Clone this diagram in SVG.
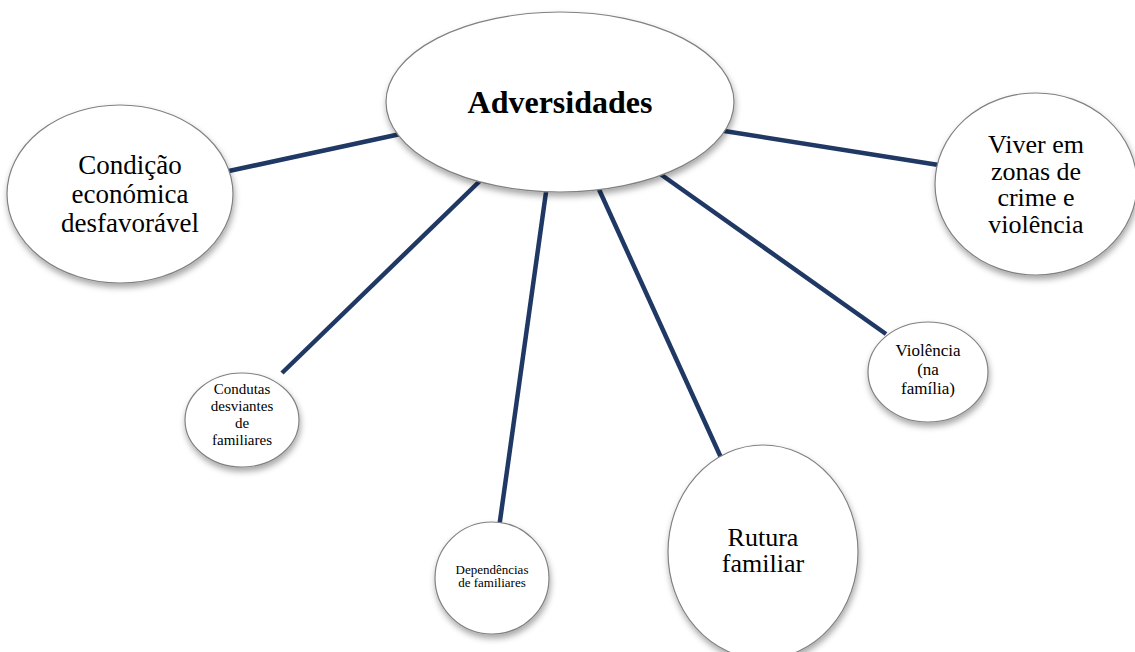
<svg xmlns="http://www.w3.org/2000/svg" width="1135" height="652" viewBox="0 0 1135 652">
<defs>
<filter id="sh" x="-20%" y="-20%" width="140%" height="150%">
<feDropShadow dx="1" dy="4" stdDeviation="3" flood-color="#000" flood-opacity="0.35"/>
</filter>
<style>
.n{fill:#fff;stroke:#808080;stroke-width:1.2;filter:url(#sh)}
.c{stroke:#1f3864;stroke-width:4.5;fill:none;stroke-linecap:butt}
text{font-family:"Liberation Serif","Times New Roman",serif;fill:#000;text-anchor:middle}
</style>
</defs>
<rect width="1135" height="652" fill="#fff"/>
<g id="connectors">
<line class="c" x1="405" y1="133" x2="215" y2="174"/>
<line class="c" x1="485" y1="176" x2="282" y2="373"/>
<line class="c" x1="547" y1="185" x2="499" y2="528"/>
<line class="c" x1="597" y1="185" x2="723" y2="462"/>
<line class="c" x1="656" y1="171" x2="886" y2="334"/>
<line class="c" x1="718" y1="130" x2="945" y2="166"/>
</g>
<g id="adversidades">
<ellipse class="n" cx="560" cy="102" rx="174" ry="90"/>
<text x="560" y="113" font-size="32" font-weight="bold">Adversidades</text>
</g>
<g id="condicao">
<ellipse class="n" cx="120" cy="194" rx="113" ry="89"/>
<text font-size="27"><tspan x="130" y="174">Condição</tspan><tspan x="130" y="203">económica</tspan><tspan x="130" y="232">desfavorável</tspan></text>
</g>
<g id="viver">
<ellipse class="n" cx="1036" cy="184" rx="101" ry="91"/>
<text font-size="26"><tspan x="1036" y="153">Viver em</tspan><tspan x="1036" y="180">zonas de</tspan><tspan x="1036" y="206">crime e</tspan><tspan x="1036" y="233">violência</tspan></text>
</g>
<g id="condutas">
<ellipse class="n" cx="242" cy="420" rx="57" ry="47"/>
<text font-size="15"><tspan x="242" y="394">Condutas</tspan><tspan x="242" y="411">desviantes</tspan><tspan x="242" y="428">de</tspan><tspan x="242" y="445">familiares</tspan></text>
</g>
<g id="dependencias">
<ellipse class="n" cx="492" cy="578" rx="57" ry="56"/>
<text font-size="13"><tspan x="492" y="574">Dependências</tspan><tspan x="492" y="587">de familiares</tspan></text>
</g>
<g id="violencia">
<ellipse class="n" cx="928" cy="372" rx="60" ry="50"/>
<text font-size="17"><tspan x="928" y="356">Violência</tspan><tspan x="928" y="375">(na</tspan><tspan x="928" y="394">família)</tspan></text>
</g>
<g id="rutura">
<ellipse class="n" cx="763" cy="552" rx="95" ry="107"/>
<text font-size="26"><tspan x="763" y="546">Rutura</tspan><tspan x="763" y="572">familiar</tspan></text>
</g>
</svg>
